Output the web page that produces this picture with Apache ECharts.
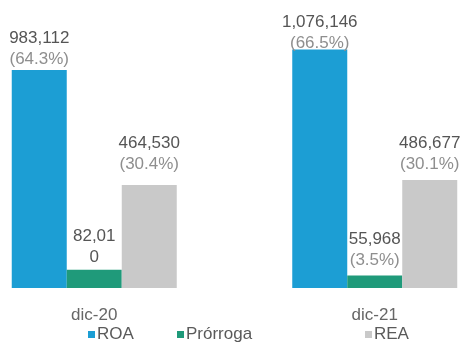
<!DOCTYPE html>
<html><head><meta charset="utf-8">
<script src="https://cdn.jsdelivr.net/npm/echarts@6/dist/echarts.min.js"></script>
<style>html,body{margin:0;padding:0;background:#fff;overflow:hidden;width:462px;height:347px;position:relative}
#c{position:absolute;left:-46px;top:0;width:561px;height:347px}</style>
</head><body><div id="c"></div>
<script>
var categories = ['dic-20', 'dic-21'];
var seriesNames = ['ROA', 'Prórroga', 'REA'];
var roa = [983112, 1076146];
var prorroga = [82010, 55968];
var rea = [464530, 486677];
var roaLabels = ['983,112\n(64.3%)', '1,076,146\n(66.5%)'];
var prorrogaLabels = ['82,01\n0', '55,968\n(3.5%)'];
var reaLabels = ['464,530\n(30.4%)', '486,677\n(30.1%)'];

var colors = ['#1c9ed4', '#1f9a7a', '#c9c9c9'];
var font = 'Liberation Sans, Arial, sans-serif';
var fs = 17;

function mkData(vals, labels, dists) {
  return vals.map(function (v, i) {
    var parts = labels[i].split('\n');
    var isPct = parts[1] && parts[1].charAt(0) === '(';
    return {
      value: v,
      label: {
        distance: dists[i],
        formatter: '{a|' + parts[0] + '}\n{' + (isPct ? 'b' : 'a') + '|' + parts[1] + '}'
      }
    };
  });
}
var rich = {
  a: { color: '#555555', fontSize: fs, lineHeight: 21, fontFamily: font },
  b: { color: '#8e8e8e', fontSize: fs, lineHeight: 21, fontFamily: font }
};
var chart = echarts.init(document.getElementById('c'));
function legend(name, left) {
  return {
    data: [name], left: left, top: 326, padding: 0, icon: 'rect', itemWidth: 7, itemHeight: 7, itemGap: 0,
    textStyle: { color: '#5a5a5a', fontSize: fs, fontFamily: font, padding: [0, 0, 0, -3] }
  };
}
chart.setOption({
  animation: false,
  color: colors,
  legend: [legend('ROA', 134), legend('Prórroga', 223), legend('REA', 411)],
  grid: { left: 0, right: 0, top: 22, bottom: 59 },
  xAxis: {
    type: 'category', data: categories,
    axisLine: { show: false }, axisTick: { show: false },
    axisLabel: { color: '#666', fontSize: fs, fontFamily: font, margin: 19 }
  },
  yAxis: { type: 'value', min: 0, max: 1200000, show: false, splitLine: { show: false } },
  series: [
    { name: seriesNames[0], type: 'bar', barWidth: 55, barGap: '0%', data: mkData(roa, roaLabels, [0, -4]),
      label: { show: true, position: 'top', rich: rich } },
    { name: seriesNames[1], type: 'bar', barWidth: 55, barGap: '0%', data: mkData(prorroga, prorrogaLabels, [2, 5]),
      label: { show: true, position: 'top', rich: rich } },
    { name: seriesNames[2], type: 'bar', barWidth: 55, barGap: '0%', data: mkData(rea, reaLabels, [10, 5]),
      label: { show: true, position: 'top', rich: rich } }
  ]
});
</script></body></html>
